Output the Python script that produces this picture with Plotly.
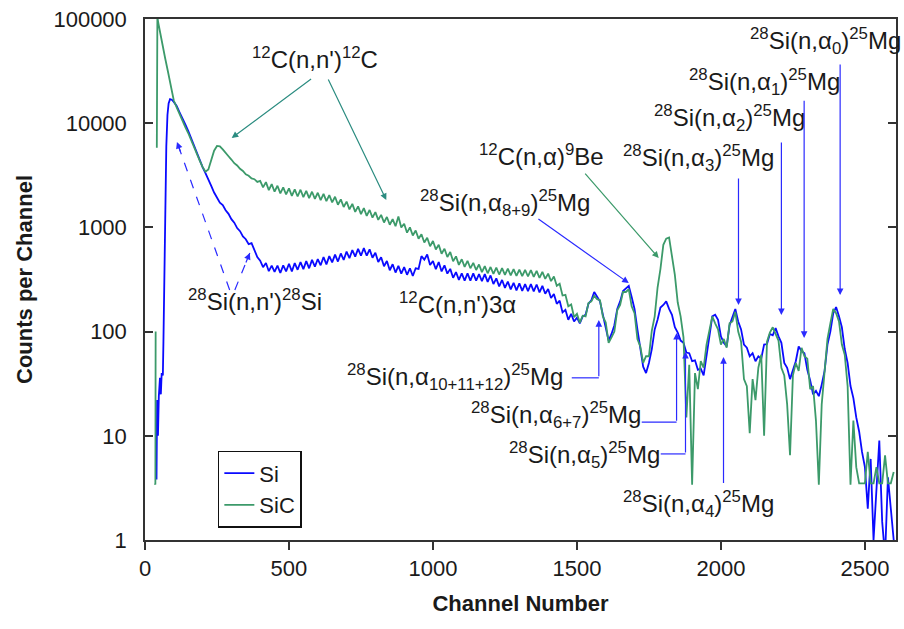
import math
import plotly.graph_objects as go

# ---------------------------------------------------------------
# Pulse-height spectra (counts per channel) for Si and SiC detectors
# ---------------------------------------------------------------

# Leading edge of each spectrum (finer channel spacing)
si_early_ch = [40, 42, 45, 48, 52, 55, 58, 62, 64, 67, 70, 74, 78, 82, 87, 93]
si_early = [3.8, 22, 10, 24, 36, 25, 40, 38, 80, 400, 1500, 6000, 12000, 15500, 17000, 16800]

sic_early_ch = [34, 35, 36, 37, 39, 41, 43, 46, 50, 60, 70, 80, 90]
sic_early = [3.5, 85, 3.4, 100, None, 5800, 105000, 92000, 80000, 58000, 42000, 31000, 23000]

# Main body of the spectra, channels 100..2600 every 10 channels
channel = list(range(100, 2601, 10))

si_counts = [
    16000, 14600, 12700, 11300, 9750, 8450, 7150, 6150, 5150, 4480,   # 100
    3790, 3320, 2830, 2500, 2160, 1950, 1730, 1640, 1460, 1350,       # 200
    1200, 1110, 985, 920, 820, 770, 690, 705, 615, 520,               # 300
    480, 415, 455, 380, 430, 375, 430, 365, 432, 378,                 # 400
    448, 378, 455, 392, 465, 398, 475, 405, 488, 420,                 # 500
    497, 433, 520, 442, 530, 462, 548, 470, 562, 488,                 # 600
    585, 506, 605, 525, 622, 535, 632, 535, 615, 512,                 # 700
    572, 466, 518, 424, 476, 388, 443, 369, 427, 360,                 # 800
    416, 351, 405, 342, 405, 400, 530, 490, 550, 435,                 # 900
    475, 397, 465, 378, 432, 360, 400, 328, 373, 314,                 # 1000
    362, 309, 362, 309, 362, 309, 356, 305, 356, 300,                 # 1100
    346, 286, 324, 272, 313, 263, 302, 254, 294, 249,                 # 1200
    290, 246, 286, 245, 286, 243, 283, 238, 275, 231,                 # 1300
    256, 210, 230, 185, 198, 153, 162, 130, 148, 125,                 # 1400
    136, 120, 140, 145, 185, 200, 240, 215, 195, 145,                 # 1500
    112, 82, 95, 115, 165, 195, 245, 262, 275, 215,                   # 1600
    165, 105, 72, 46, 40, 50, 68, 105, 130, 170,                      # 1700
    180, 195, 165, 145, 110, 98, 82, 78, 63, 62,                      # 1800
    52, 53, 43, 44, 38, 62, 90, 140, 145, 130,                        # 1900
    90, 78, 72, 115, 140, 165, 125, 105, 75, 70,                      # 2000
    58, 62, 52, 58, 55, 75, 76, 95, 92, 108,                          # 2100
    90, 78, 50, 45, 35, 44, 52, 72, 65, 62,                           # 2200
    43, 34, 25, 27, 24, 31, 42, 75, 100, 150,                         # 2300
    172, 140, 110, 68, 50, 30, 23, 15, 11, 7,                         # 2400
    5, 2, 6, 1, 3, 9, 1.5, 0.7, 4, 2, 1,                              # 2500-2600
]

sic_counts = [
    16500, 14200, 12100, 10700, 9150, 8050, 6850, 5950, 5000, 4380,   # 100
    3800, 3420, 3600, 4450, 5450, 6050, 6000, 5600, 5250, 4820,       # 200
    4480, 4130, 3930, 3650, 3480, 3230, 3130, 2950, 2900, 2730,       # 300
    2800, 2420, 2720, 2280, 2600, 2200, 2510, 2120, 2420, 2070,       # 400
    2370, 2010, 2320, 1980, 2300, 1950, 2240, 1910, 2200, 1880,       # 500
    2150, 1830, 2100, 1790, 2040, 1740, 1970, 1650, 1860, 1570,       # 600
    1770, 1490, 1680, 1410, 1590, 1340, 1530, 1290, 1470, 1240,       # 700
    1400, 1180, 1320, 1115, 1260, 1060, 1200, 1025, 1270, 1000,       # 800
    1085, 890, 1000, 835, 935, 780, 860, 715, 795, 660,               # 900
    740, 615, 680, 558, 625, 520, 580, 474, 527, 437,                 # 1000
    495, 418, 478, 405, 457, 390, 441, 372, 425, 363,                 # 1100
    417, 358, 411, 353, 406, 350, 402, 346, 398, 342,                 # 1200
    394, 340, 391, 338, 389, 335, 383, 327, 374, 321,                 # 1300
    360, 305, 338, 275, 288, 222, 225, 175, 182, 138,                 # 1400
    148, 122, 142, 140, 188, 195, 220, 205, 200, 140,                 # 1500
    122, 78, 88, 100, 160, 180, 240, 240, 255, 175,                   # 1600
    150, 85, 72, 50, 58, 58, 102, 140, 265, 400,                      # 1700
    680, 780, 800, 520, 350, 190, 140, 88, 15, 48,                    # 1800
    3.4, 40, 28, 52, 45, 75, 100, 140, 120, 105,                      # 1900
    75, 85, 70, 120, 125, 155, 100, 80, 35, 30,                       # 2000
    10.6, 35, 22, 45, 60, 10, 80, 98, 110, 95,                        # 2100
    82, 45, 38, 20, 6.5, 38, 50, 42, 70, 58,                          # 2200
    55, 28, 30, 14, 3.4, 20, 38, 85, 120, 165,                        # 2300
    150, 125, 75, 60, 30, 3.4, 14, 5, 3.5, 3.5,                       # 2400
    3.5, 7, 3.5, 3.5, 5, 3.5, 3.5, 6.5, 3.5, 3.5, 4.5,                # 2500-2600
]

x_tick_vals = [0, 500, 1000, 1500, 2000, 2500]
y_tick_vals = [1, 10, 100, 1000, 10000, 100000]
y_tick_text = ["1", "10", "100", "1000", "10000", "100000"]

X_MAX = 2608
LOG_MAX = 5

SI_BLUE = "#0a0aff"
SIC_GREEN = "#3c9a6a"
TEAL = "#2b8c80"
ARROW_BLUE = "#2a2aff"
FONT = "Liberation Sans, Arial, sans-serif"

fig = go.Figure()
fig.add_trace(go.Scatter(
    x=si_early_ch + channel, y=si_early + si_counts,
    mode="lines", name="Si",
    line=dict(color=SI_BLUE, width=1.8),
))
fig.add_trace(go.Scatter(
    x=sic_early_ch + channel, y=sic_early + sic_counts,
    mode="lines", name="SiC",
    line=dict(color=SIC_GREEN, width=1.8),
))


def lg(c):
    return math.log10(c)


def paper_x(ch):
    return ch / X_MAX


def paper_y(c):
    return lg(c) / LOG_MAX


annotations = []
shapes = []


def label(text, ch, counts):
    annotations.append(dict(
        x=ch, y=lg(counts), xref="x", yref="y", text=text, showarrow=False,
        xanchor="center", yanchor="middle",
        font=dict(family=FONT, size=24, color="#1a1a1a"),
    ))


def arrow(tail, head, color, width=1.2):
    annotations.append(dict(
        x=head[0], y=lg(head[1]), ax=tail[0], ay=lg(tail[1]),
        xref="x", yref="y", axref="x", ayref="y",
        text="", showarrow=True, arrowhead=2, arrowsize=1.1,
        arrowwidth=width, arrowcolor=color, standoff=0,
    ))


def line(p0, p1, color, dash="solid", width=1.2):
    shapes.append(dict(
        type="line", xref="paper", yref="paper",
        x0=paper_x(p0[0]), y0=paper_y(p0[1]),
        x1=paper_x(p1[0]), y1=paper_y(p1[1]),
        line=dict(color=color, width=width, dash=dash),
    ))


def dashed_arrow(tail, head, color, dx, dy):
    line(tail, head, color, dash="dash")
    annotations.append(dict(
        x=head[0], y=lg(head[1]), ax=dx, ay=dy,
        xref="x", yref="y",
        text="", showarrow=True, arrowhead=2, arrowsize=1.1,
        arrowwidth=1.2, arrowcolor=color, standoff=0,
    ))


# 12C inelastic scattering
label("<sup>12</sup>C(n,n')<sup>12</sup>C", 589, 42300)
arrow((582, 27200), (301, 7210), TEAL)
arrow((634, 27200), (838, 1830), TEAL)

# 28Si inelastic scattering
label("<sup>28</sup>Si(n,n')<sup>28</sup>Si", 381, 201)
dashed_arrow((294, 251), (111, 6600), ARROW_BLUE, 4, 11)
dashed_arrow((312, 251), (364, 568), ARROW_BLUE, -4.5, 11)

label("<sup>12</sup>C(n,n')3α", 1084, 188)

label("<sup>28</sup>Si(n,α<sub>8+9</sub>)<sup>25</sup>Mg", 1250, 1710)
arrow((1361, 1230), (1680, 292), ARROW_BLUE)

label("<sup>12</sup>C(n,α)<sup>9</sup>Be", 1378, 4950)
arrow((1524, 3400), (1784, 508), SIC_GREEN)

label("<sup>28</sup>Si(n,α<sub>3</sub>)<sup>25</sup>Mg", 1922, 4630)
arrow((2061, 3050), (2061, 180), ARROW_BLUE)

label("<sup>28</sup>Si(n,α<sub>2</sub>)<sup>25</sup>Mg", 2030, 11200)
arrow((2210, 6750), (2210, 144), ARROW_BLUE)

label("<sup>28</sup>Si(n,α<sub>1</sub>)<sup>25</sup>Mg", 2151, 24800)
arrow((2289, 17000), (2289, 87), ARROW_BLUE)

label("<sup>28</sup>Si(n,α<sub>0</sub>)<sup>25</sup>Mg", 2362, 61500)
arrow((2414, 37800), (2414, 224), ARROW_BLUE)

# Labels below the spectrum with elbow leaders
label("<sup>28</sup>Si(n,α<sub>10+11+12</sub>)<sup>25</sup>Mg", 1077, 36.6)
line((1482, 36), (1576, 36), ARROW_BLUE)
arrow((1576, 36), (1576, 129), ARROW_BLUE)

label("<sup>28</sup>Si(n,α<sub>6+7</sub>)<sup>25</sup>Mg", 1427, 15.8)
line((1725, 13.5), (1846, 13.5), ARROW_BLUE)
arrow((1846, 13.5), (1846, 97), ARROW_BLUE)

label("<sup>28</sup>Si(n,α<sub>5</sub>)<sup>25</sup>Mg", 1527, 6.55)
line((1791, 6.7), (1877, 6.7), ARROW_BLUE)
arrow((1877, 6.7), (1877, 64), ARROW_BLUE)

label("<sup>28</sup>Si(n,α<sub>4</sub>)<sup>25</sup>Mg", 1922, 2.21)
arrow((2009, 3.4), (2009, 57), ARROW_BLUE)

fig.update_layout(
    width=904, height=629, autosize=False,
    margin=dict(l=145, r=6, t=19, b=89),
    paper_bgcolor="white", plot_bgcolor="white",
    font=dict(family=FONT, size=22, color="#1a1a1a"),
    showlegend=True,
    legend=dict(
        x=0.097, y=0.171, xanchor="left", yanchor="top",
        bgcolor="white", bordercolor="#111", borderwidth=1.5,
        font=dict(family=FONT, size=22, color="#1a1a1a"),
        tracegroupgap=0, itemwidth=30,
    ),
    annotations=annotations,
    shapes=shapes,
)

fig.update_xaxes(
    range=[0, X_MAX], tickvals=x_tick_vals,
    ticks="outside", ticklen=8, tickwidth=1.5, tickcolor="#333",
    showline=True, linecolor="#333", linewidth=1.5, mirror=True,
    showgrid=False, zeroline=False,
    tickfont=dict(family=FONT, size=22, color="#1a1a1a"),
    title=dict(text="<b>Channel Number</b>", font=dict(family=FONT, size=22, color="#1a1a1a")),
)
fig.update_yaxes(
    type="log", range=[0, LOG_MAX],
    tickvals=y_tick_vals, ticktext=y_tick_text,
    ticks="inside", ticklen=8, tickwidth=1.5, tickcolor="#333",
    showline=True, linecolor="#333", linewidth=1.5, mirror="ticks",
    showgrid=False, zeroline=False, ticklabelstandoff=12,
    tickfont=dict(family=FONT, size=22, color="#1a1a1a"),
    title=dict(text="<b>Counts per Channel</b>", font=dict(family=FONT, size=22, color="#1a1a1a")),
)

fig.write_html("out.html")
